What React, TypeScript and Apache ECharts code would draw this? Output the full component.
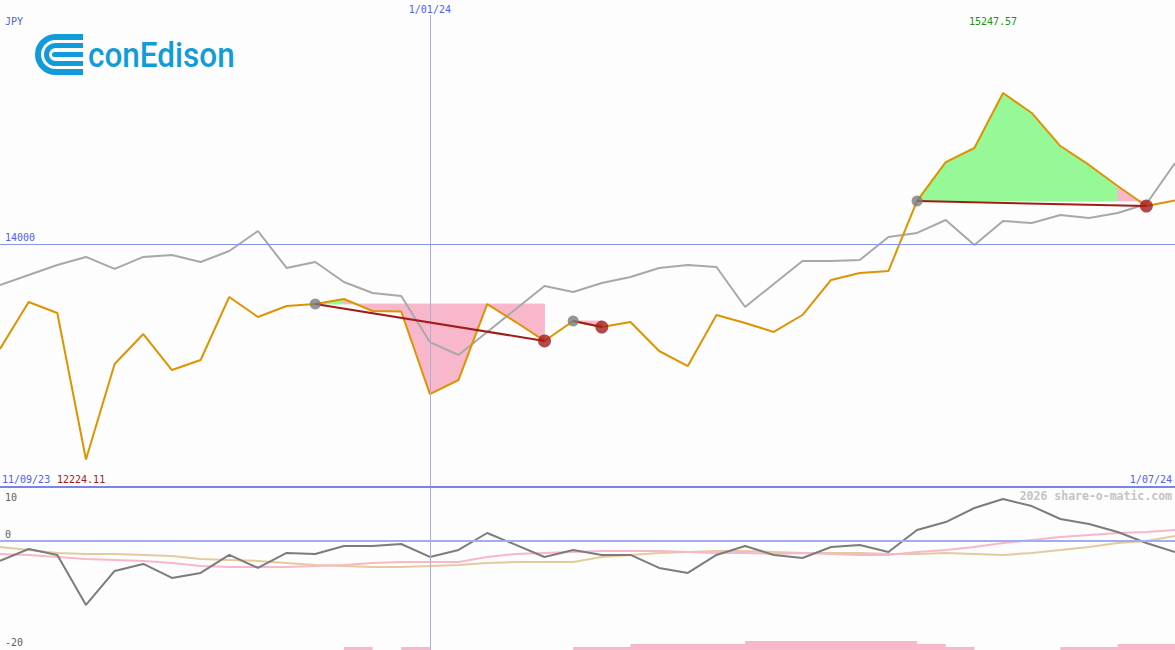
import React, { useEffect, useRef } from 'react';
import * as echarts from 'echarts';

const categories = [
  '0', '1', '2', '3', '4', '5', '6', '7', '8', '9', '10', '11', '12', '13', '14', '15', '16', '17', '18', '19', '20',
  '21', '22', '23', '24', '25', '26', '27', '28', '29', '30', '31', '32', '33', '34', '35', '36', '37', '38', '39', '40', '41',
];

const price = [
  13136, 13523, 13433, 12224.11, 13012, 13259, 12962, 13045, 13565, 13400, 13490, 13507, 13548, 13449, 13445,
  12764, 12880, 13505, 13358, 13202, 13367, 13317, 13358, 13119, 12995, 13416, 13350, 13276, 13416, 13705,
  13763, 13779, 14357, 14678, 14794, 15247.57, 15083, 14810, 14654, 14480, 14315, 14360,
];

const benchmark = [
  13664, 13746, 13829, 13895, 13796, 13895, 13911, 13853, 13944, 14109, 13804, 13853, 13688, 13598, 13573,
  13193, 13086, 13276, 13466, 13655, 13606, 13680, 13730, 13804, 13829, 13812, 13482, 13672, 13862, 13862,
  13870, 14060, 14093, 14200, 13994, 14192, 14175, 14241, 14216, 14258, 14332, 14670,
];

const tradeStart = [11, 20, 32];
const tradeEnd = [19, 21, 40];

const momentum = [
  -3.77, -1.51, -2.64, -12.08, -5.66, -4.34, -6.98, -6.04, -2.64, -5.09, -2.26, -2.45, -0.94, -0.94, -0.57,
  -3.02, -1.7, 1.51, -0.75, -3.02, -1.7, -2.64, -2.64, -5.09, -6.04, -2.64, -0.94, -2.64, -3.21, -1.13,
  -0.75, -2.08, 2.08, 3.58, 6.23, 7.92, 6.6, 4.15, 3.21, 1.7, -0.38, -2.08,
];

const signalPink = [
  -2.45, -2.64, -3.02, -3.4, -3.58, -3.77, -4.15, -4.72, -4.91, -4.91, -4.91, -4.72, -4.53, -4.15, -3.96,
  -3.96, -3.96, -3.02, -2.45, -2.26, -2.08, -1.89, -1.89, -1.89, -2.08, -2.26, -2.26, -2.45, -2.26, -2.45,
  -2.64, -2.64, -2.08, -1.7, -1.13, -0.38, 0.19, 0.75, 1.13, 1.51, 1.7, 2.08,
];

const signalTan = [
  -1.13, -1.7, -2.26, -2.45, -2.45, -2.64, -2.83, -3.4, -3.58, -3.77, -4.15, -4.53, -4.72, -4.91, -4.91,
  -4.72, -4.53, -4.15, -3.96, -3.96, -3.96, -3.02, -2.64, -2.26, -2.08, -1.89, -1.89, -2.08, -2.26, -2.26,
  -2.26, -2.45, -2.45, -2.26, -2.45, -2.64, -2.26, -1.7, -1.13, -0.38, 0, 0.94,
];

const activityBars = [
  0, 0, 0, 0, 0, 0, 0, 0, 0, 0, 0, 0, 1, 0, 1, 0, 0, 0, 0, 0, 1, 1, 2, 2, 2, 2, 3, 3, 3, 3, 3, 3, 2, 1, 0, 0, 0,
  1, 1, 2, 2, 0,
];

const refLevel = 14000;
const markerIndex = 15;
const markerLabel = '1/01/24';
const startLabel = '11/09/23';
const endLabel = '1/07/24';
const currency = 'JPY';
const lowerTicks = ['10', '0', '-20'];

const MONO = '"DejaVu Sans Mono", monospace';
const BLUE = '#5060f0';
const LOGO = '#119cd9';
const GREEN_FILL = '#96f896';
const PINK_FILL = '#f9b7cb';

export default function App() {
  const ref = useRef<HTMLDivElement>(null);

  useEffect(() => {
    if (!ref.current) return;
    const chart = echarts.init(ref.current, undefined, { renderer: 'svg' });

    const maxV = Math.max(...price);
    const minV = Math.min(...price);

    const fillData: number[][] = [];
    tradeStart.forEach((s, k) => {
      const e = tradeEnd[k];
      for (let i = s; i < e; i++) fillData.push([i, price[s], price[i], price[i + 1]]);
    });

    const trendSeries = tradeStart.map((s, k) => ({
      type: 'line',
      xAxisIndex: 0,
      yAxisIndex: 0,
      data: [
        [s, price[s]],
        [tradeEnd[k], price[tradeEnd[k]]],
      ],
      symbol: 'none',
      lineStyle: { color: '#a01c1c', width: 2 },
      z: 5,
      silent: true,
    }));

    const option: any = {
      animation: false,
      backgroundColor: '#fcfdfc',
      grid: [
        { left: 0, right: 0, top: 15, height: 472 },
        { left: 0, right: 0, top: 487, height: 163 },
      ],
      xAxis: [
        { type: 'category', data: categories, boundaryGap: false, gridIndex: 0, show: false },
        { type: 'category', data: categories, boundaryGap: false, gridIndex: 1, show: false },
      ],
      yAxis: [
        { type: 'value', gridIndex: 0, min: 11997.07, max: 15891.07, show: false, splitLine: { show: false } },
        { type: 'value', gridIndex: 1, min: -20.6, max: 10.2, show: false, splitLine: { show: false } },
        { type: 'value', gridIndex: 1, min: 0, max: 54.333, show: false, splitLine: { show: false } },
      ],
      series: [
        {
          type: 'custom',
          xAxisIndex: 0,
          yAxisIndex: 0,
          data: fillData,
          z: 1,
          silent: true,
          encode: { x: 0, y: 1 },
          renderItem: (params: any, api: any) => {
            const i = api.value(0);
            const lvl = api.value(1);
            const a = api.value(2);
            const b = api.value(3);
            const p0 = api.coord([i, lvl]);
            const p1 = api.coord([i, a]);
            const p2 = api.coord([i + 1, b]);
            const p3 = api.coord([i + 1, lvl]);
            const c = b >= lvl ? GREEN_FILL : PINK_FILL;
            return {
              type: 'polygon',
              shape: { points: [p0, p1, p2, p3] },
              style: { fill: c, stroke: c, lineWidth: 0.8 },
            };
          },
        },
        {
          type: 'line',
          xAxisIndex: 0,
          yAxisIndex: 0,
          data: benchmark,
          symbol: 'none',
          lineStyle: { color: '#a8a8a8', width: 2 },
          z: 2,
          silent: true,
        },
        {
          type: 'line',
          xAxisIndex: 0,
          yAxisIndex: 0,
          data: price,
          symbol: 'none',
          lineStyle: { color: '#de9300', width: 2 },
          z: 3,
          silent: true,
          markLine: {
            silent: true,
            symbol: 'none',
            animation: false,
            data: [
              {
                xAxis: markerIndex,
                lineStyle: { color: '#aab0dc', width: 1, type: 'solid' },
                label: {
                  show: true,
                  position: 'end',
                  distance: 1,
                  formatter: markerLabel,
                  color: BLUE,
                  fontFamily: MONO,
                  fontSize: 10,
                },
              },
              {
                yAxis: refLevel,
                lineStyle: { color: '#8894f0', width: 1, type: 'solid' },
                label: {
                  show: true,
                  position: 'insideStartTop',
                  distance: [5, 2],
                  formatter: String(refLevel),
                  color: BLUE,
                  fontFamily: MONO,
                  fontSize: 10,
                },
              },
            ],
          },
        },
        ...trendSeries,
        {
          type: 'scatter',
          xAxisIndex: 0,
          yAxisIndex: 0,
          data: tradeStart.map((i) => [i, price[i]]),
          symbolSize: 11,
          itemStyle: { color: '#7c7c7c' },
          z: 6,
          silent: true,
        },
        {
          type: 'scatter',
          xAxisIndex: 0,
          yAxisIndex: 0,
          data: tradeEnd.map((i) => [i, price[i]]),
          symbolSize: 13,
          itemStyle: { color: '#a41c1c' },
          z: 6,
          silent: true,
        },
        {
          type: 'line',
          xAxisIndex: 1,
          yAxisIndex: 2,
          data: activityBars,
          step: 'end',
          symbol: 'none',
          lineStyle: { width: 0, opacity: 0 },
          areaStyle: { color: PINK_FILL, opacity: 1 },
          z: 1,
          silent: true,
        },
        {
          type: 'line',
          xAxisIndex: 1,
          yAxisIndex: 1,
          data: signalTan,
          symbol: 'none',
          lineStyle: { color: '#e2cc9e', width: 2 },
          z: 2,
          silent: true,
        },
        {
          type: 'line',
          xAxisIndex: 1,
          yAxisIndex: 1,
          data: signalPink,
          symbol: 'none',
          lineStyle: { color: '#f9b7cb', width: 2 },
          z: 3,
          silent: true,
        },
        {
          type: 'line',
          xAxisIndex: 1,
          yAxisIndex: 1,
          data: momentum,
          symbol: 'none',
          lineStyle: { color: '#7c7c7c', width: 2 },
          z: 4,
          silent: true,
          markLine: {
            silent: true,
            symbol: 'none',
            animation: false,
            label: { show: false },
            data: [
              { xAxis: markerIndex, lineStyle: { color: '#aab0dc', width: 1, type: 'solid' } },
              { yAxis: 0, lineStyle: { color: '#a2acf0', width: 2, type: 'solid' } },
            ],
          },
        },
      ],
      graphic: [
        {
          type: 'line',
          shape: { x1: 0, y1: 487, x2: 1175, y2: 487 },
          style: { stroke: '#7884ec', lineWidth: 2 },
          z: 100,
          silent: true,
        },
        {
          type: 'text',
          x: 5,
          y: 21,
          style: { text: currency, fill: BLUE, font: `10px ${MONO}`, textVerticalAlign: 'middle' },
          silent: true,
        },
        {
          type: 'text',
          x: 993,
          y: 21,
          style: {
            text: maxV.toFixed(2),
            fill: '#149614',
            font: `10px ${MONO}`,
            textAlign: 'center',
            textVerticalAlign: 'middle',
          },
          silent: true,
        },
        {
          type: 'text',
          x: 2,
          y: 479,
          style: { text: startLabel, fill: BLUE, font: `10px ${MONO}`, textVerticalAlign: 'middle' },
          silent: true,
        },
        {
          type: 'text',
          x: 57,
          y: 479,
          style: { text: minV.toFixed(2), fill: '#a01c1c', font: `10px ${MONO}`, textVerticalAlign: 'middle' },
          silent: true,
        },
        {
          type: 'text',
          x: 1172,
          y: 479,
          style: {
            text: endLabel,
            fill: BLUE,
            font: `10px ${MONO}`,
            textAlign: 'right',
            textVerticalAlign: 'middle',
          },
          silent: true,
        },
        {
          type: 'text',
          x: 1172,
          y: 496,
          style: {
            text: '2026 share-o-matic.com',
            fill: '#c4c4c4',
            font: `bold 11.5px ${MONO}`,
            textAlign: 'right',
            textVerticalAlign: 'middle',
          },
          silent: true,
        },
        {
          type: 'text',
          x: 5,
          y: 497,
          style: { text: lowerTicks[0], fill: '#606060', font: `10px ${MONO}`, textVerticalAlign: 'middle' },
          silent: true,
        },
        {
          type: 'text',
          x: 5,
          y: 534,
          style: { text: lowerTicks[1], fill: '#606060', font: `10px ${MONO}`, textVerticalAlign: 'middle' },
          silent: true,
        },
        {
          type: 'text',
          x: 5,
          y: 642,
          style: { text: lowerTicks[2], fill: '#606060', font: `10px ${MONO}`, textVerticalAlign: 'middle' },
          silent: true,
        },
        // logo
        {
          type: 'group',
          silent: true,
          children: [
            {
              type: 'arc',
              shape: { cx: 55.5, cy: 54.5, r: 17.5, startAngle: Math.PI / 2, endAngle: (3 * Math.PI) / 2, clockwise: true },
              style: { stroke: LOGO, lineWidth: 6, fill: null },
            },
            { type: 'rect', shape: { x: 55, y: 34, width: 28, height: 6 }, style: { fill: LOGO } },
            { type: 'rect', shape: { x: 55, y: 69, width: 28, height: 6 }, style: { fill: LOGO } },
            {
              type: 'arc',
              shape: { cx: 55.5, cy: 54.5, r: 9, startAngle: Math.PI / 2, endAngle: (3 * Math.PI) / 2, clockwise: true },
              style: { stroke: LOGO, lineWidth: 5, fill: null },
            },
            { type: 'rect', shape: { x: 55, y: 43, width: 28, height: 5 }, style: { fill: LOGO } },
            { type: 'rect', shape: { x: 55, y: 61, width: 28, height: 5 }, style: { fill: LOGO } },
            { type: 'rect', shape: { x: 52, y: 52, width: 31, height: 5, r: [2.5, 0, 0, 2.5] }, style: { fill: LOGO } },
            {
              type: 'text',
              x: 88,
              y: 55,
              scaleX: 0.9,
              style: {
                text: 'conEdison',
                fill: LOGO,
                font: '500 35px Roboto, "Liberation Sans", sans-serif',
                textVerticalAlign: 'middle',
              },
            },
          ],
        },
      ],
    };

    chart.setOption(option);
    return () => chart.dispose();
  }, []);

  return (
    <div
      ref={ref}
      style={{ position: 'fixed', left: 0, top: 0, width: 1175, height: 650 }}
    />
  );
}
